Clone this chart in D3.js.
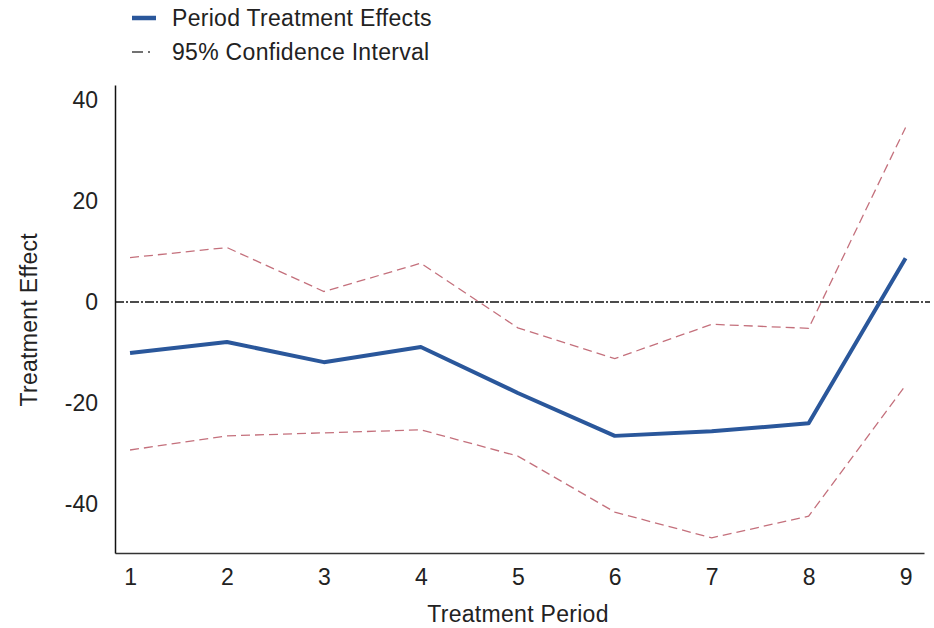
<!DOCTYPE html>
<html>
<head>
<meta charset="utf-8">
<script src="https://cdn.jsdelivr.net/npm/d3@7"></script>
<style>
  body { margin: 0; background: #fff; }
  svg { display: block; font-family: "Liberation Sans", Arial, sans-serif; }
</style>
</head>
<body>
<div id="chart"></div>
<script>
// period numbers and estimated values
const periods = [1, 2, 3, 4, 5, 6, 7, 8, 9];
const effects = [-10.1, -7.9, -11.9, -8.9, -18.0, -26.5, -25.6, -24.0, 8.7];
const upperCI = [8.8, 10.8, 2.1, 7.7, -5.1, -11.2, -4.4, -5.2, 34.6];
const lowerCI = [-29.3, -26.5, -25.9, -25.3, -30.5, -41.6, -46.7, -42.4, -16.5];
const yTicks = [40, 20, 0, -20, -40];

const width = 934, height = 628;
const margin = { top: 85, right: 10, bottom: 75, left: 115 };
const fontSize = 23;
const textColor = "#222";

const svg = d3.select("#chart").append("svg")
    .attr("width", width)
    .attr("height", height);

const x = d3.scaleLinear()
    .domain([0.845, 9.19])
    .range([margin.left, 924]);
const y = d3.scaleLinear()
    .domain([-49.7, 43])
    .range([height - margin.bottom, margin.top]);

// tick labels only, no tick marks, hyphen minus like the original
const xAxis = svg.append("g")
    .attr("transform", `translate(0,${height - margin.bottom})`)
    .call(d3.axisBottom(x).tickValues(periods).tickSize(0).tickPadding(16));
xAxis.select(".domain").attr("stroke", "#333").attr("stroke-width", 1.5);

const yAxis = svg.append("g")
    .attr("transform", `translate(${margin.left},0)`)
    .call(d3.axisLeft(y).tickValues(yTicks).tickFormat(d => String(d)).tickSize(0).tickPadding(17));
yAxis.select(".domain").attr("stroke", "#111").attr("stroke-width", 1.5);

svg.selectAll(".tick text")
    .attr("font-size", fontSize)
    .attr("fill", textColor)
    .attr("font-family", "Liberation Sans, Arial, sans-serif");

// zero reference line
svg.append("line")
    .attr("x1", margin.left).attr("x2", 930)
    .attr("y1", y(0)).attr("y2", y(0))
    .attr("stroke", "#111")
    .attr("stroke-width", 1.5)
    .attr("stroke-dasharray", "9,2,2,2");

const line = d3.line()
    .x((d, i) => x(periods[i]))
    .y(d => y(d));

[upperCI, lowerCI].forEach(ci => {
    svg.append("path")
        .datum(ci)
        .attr("d", line)
        .attr("fill", "none")
        .attr("stroke", "#c4707c")
        .attr("stroke-width", 1.3)
        .attr("stroke-dasharray", "9,5");
});

svg.append("path")
    .datum(effects)
    .attr("d", line)
    .attr("fill", "none")
    .attr("stroke", "#2a579b")
    .attr("stroke-width", 4)
    .attr("stroke-linejoin", "round");

// axis titles
svg.append("text")
    .attr("x", 518)
    .attr("y", 622)
    .attr("text-anchor", "middle")
    .attr("font-size", fontSize)
    .attr("letter-spacing", 0.3)
    .attr("fill", textColor)
    .text("Treatment Period");

svg.append("text")
    .attr("transform", `translate(37,${y(-3.5)}) rotate(-90)`)
    .attr("text-anchor", "middle")
    .attr("font-size", fontSize)
    .attr("letter-spacing", 0.3)
    .attr("fill", textColor)
    .text("Treatment Effect");

// legend
const legend = svg.append("g").attr("transform", "translate(132,18)");
legend.append("line")
    .attr("x1", 0).attr("x2", 24).attr("y1", 0).attr("y2", 0)
    .attr("stroke", "#2a579b").attr("stroke-width", 4.5);
legend.append("text")
    .attr("x", 40).attr("y", 0).attr("dy", "0.35em")
    .attr("font-size", fontSize).attr("letter-spacing", 0.3).attr("fill", textColor)
    .text("Period Treatment Effects");
legend.append("line")
    .attr("x1", 0).attr("x2", 24).attr("y1", 34).attr("y2", 34)
    .attr("stroke", "#444").attr("stroke-width", 1.3)
    .attr("stroke-dasharray", "11,5,2,6");
legend.append("text")
    .attr("x", 40).attr("y", 34).attr("dy", "0.35em")
    .attr("font-size", fontSize).attr("letter-spacing", 0.3).attr("fill", textColor)
    .text("95% Confidence Interval");
</script>
</body>
</html>
